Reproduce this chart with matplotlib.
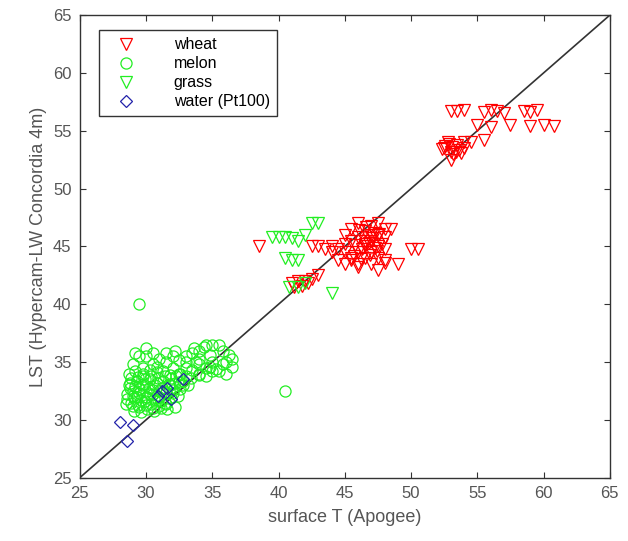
import matplotlib
matplotlib.use("Agg")
import matplotlib.pyplot as plt

plt.rcParams["font.family"] = ["Liberation Sans", "DejaVu Sans"]

# wheat (red open down-triangles)
wheat_x = [53.0, 53.5, 54.0, 55.5, 56.0, 56.5, 57.0, 58.5, 59.0, 59.5, 55.0, 56.0, 57.5, 59.0,
           60.0, 60.8, 54.0, 55.5, 52.5, 53.0, 53.5, 52.8, 53.2, 54.0, 54.5, 53.0, 52.3, 53.8,
           42.5, 43.0, 43.5, 44.0, 44.5, 45.0, 45.5, 46.0, 46.5, 47.0, 47.5, 48.0, 45.0, 45.5,
           46.0, 46.5, 47.0, 47.5, 48.0, 48.5, 45.5, 46.0, 46.5, 47.0, 47.5, 48.0, 45.0, 46.0,
           47.0, 48.0, 46.5, 47.5, 49.0, 47.5, 48.0, 50.0, 50.5, 44.5, 46.0, 47.0, 46.5, 45.5,
           38.5, 41.0, 41.5, 42.0, 42.5, 43.0, 41.2, 41.8, 42.2, 47.2, 44.0, 45.0,
           45.8, 46.3, 46.8, 47.3, 47.8, 46.1, 46.6, 47.1, 47.6, 45.7, 46.2, 46.9, 47.4,
           52.6, 53.1, 53.6, 52.9, 53.4]
wheat_y = [56.7, 56.7, 56.8, 56.6, 56.8, 56.7, 56.5, 56.7, 56.6, 56.8, 55.5, 55.3, 55.5, 55.4,
           55.5, 55.4, 54.0, 54.2, 53.5, 53.2, 53.8, 54.0, 53.0, 53.5, 54.0, 52.5, 53.4, 53.1,
           45.0, 45.0, 44.8, 45.0, 44.8, 45.2, 45.5, 45.8, 46.3, 46.8, 47.0, 46.5, 44.5, 44.0,
           44.5, 45.0, 45.5, 46.0, 45.8, 46.5, 43.8, 43.5, 44.0, 44.5, 44.0, 44.8, 43.5, 43.2,
           43.5, 43.8, 45.5, 45.0, 43.5, 43.0, 43.6, 44.8, 44.8, 43.8, 47.0, 46.0, 45.2, 46.5,
           45.0, 41.8, 42.0, 42.0, 42.2, 42.5, 41.5, 41.6, 41.8, 46.2, 44.5, 46.0,
           45.1, 44.8, 45.3, 44.9, 45.2, 46.4, 46.7, 45.7, 46.1, 44.2, 43.9, 44.3, 44.6,
           53.7, 53.6, 53.3, 53.9, 53.2]

# melon (green open circles)
melon_x = [29.5, 40.5, 29.0, 29.5, 30.0, 30.5, 29.8, 30.5, 31.0, 31.5, 32.0, 32.5, 33.0, 33.5,
           34.0, 34.5, 35.0, 35.5, 34.0, 35.0, 36.0, 36.5, 35.5, 34.5, 36.0, 33.0, 32.5, 28.7,
           29.2, 29.8, 30.3, 30.8, 31.3, 31.8, 32.3, 28.8, 29.3, 29.8, 30.3, 30.8, 31.3, 31.8,
           32.5, 29.0, 29.5, 30.0, 30.5, 31.0, 31.5, 32.0, 28.6, 29.1, 29.6, 30.1, 30.6, 31.1,
           29.0, 29.5, 30.0, 30.5, 31.0, 31.5, 28.8, 29.3, 29.8, 30.3, 30.8, 32.0, 33.0, 34.0,
           35.0, 33.5, 34.5, 32.8, 36.5, 31.5, 30.0, 29.2, 33.8, 32.2,
           28.5, 28.9, 29.4, 29.9, 30.4, 30.9, 31.4, 31.9, 32.4,
           28.6, 29.0, 29.5, 30.0, 30.5, 31.0, 31.5, 32.0, 32.6, 33.2,
           28.7, 29.2, 29.7, 30.2, 30.7, 31.2, 31.7, 32.2, 32.8, 33.4, 34.0,
           28.9, 29.4, 29.9, 30.4, 30.9, 31.4, 31.9, 32.6,
           29.1, 29.6, 30.1, 30.6, 31.1, 31.6, 32.2,
           34.0, 34.8, 35.3, 35.8, 33.6, 34.4, 33.0, 36.3, 35.8, 34.8]
melon_y = [40.0, 32.5, 34.8, 35.5, 36.2, 35.8, 34.5, 34.8, 35.3, 35.0, 35.5, 35.2, 35.5, 35.8,
           36.0, 36.5, 36.5, 36.5, 35.3, 35.0, 35.0, 35.3, 34.2, 34.5, 34.0, 34.5, 34.0, 34.0,
           34.2, 34.0, 34.3, 34.1, 34.2, 33.9, 33.8, 33.2, 33.4, 33.1, 33.5, 33.2, 33.4, 33.0,
           33.3, 32.5, 32.7, 32.4, 32.6, 32.5, 32.3, 32.6, 31.8, 31.9, 31.7, 32.0, 31.8, 31.6,
           31.2, 31.1, 31.3, 31.0, 31.2, 31.4, 32.8, 32.0, 33.8, 32.2, 34.6, 34.5, 33.8, 34.0,
           34.2, 34.3, 33.8, 33.0, 34.6, 35.8, 35.5, 35.8, 35.0, 36.0,
           31.4, 31.5, 31.3, 31.6, 31.4, 31.7, 31.5, 31.9, 32.1,
           32.2, 32.1, 32.3, 32.0, 32.2, 32.0, 32.4, 32.3, 32.7, 33.0,
           33.0, 32.9, 33.0, 32.8, 33.0, 32.8, 33.1, 33.2, 33.4, 33.6, 33.9,
           33.6, 33.7, 33.5, 33.8, 33.6, 33.8, 33.6, 34.0,
           30.8, 30.7, 30.9, 30.8, 31.0, 30.9, 31.1,
           34.8, 34.6, 34.4, 34.8, 36.2, 36.3, 35.0, 35.6, 36.0, 35.6]

# grass (green open down-triangles)
grass_x = [42.5, 43.0, 40.0, 40.5, 41.0, 41.5, 42.0, 40.5, 41.0, 41.5, 40.8, 41.5, 42.0, 44.0, 39.5]
grass_y = [47.0, 47.0, 45.8, 45.8, 45.7, 45.5, 46.0, 44.0, 43.8, 43.8, 41.5, 41.5, 41.8, 41.0, 45.8]

# water (blue open diamonds)
water_x = [28.0, 28.6, 29.0, 30.9, 31.6, 31.9, 32.8, 31.2]
water_y = [29.8, 28.2, 29.6, 32.1, 32.8, 31.8, 33.5, 32.5]

tick_vals = [25, 30, 35, 40, 45, 50, 55, 60, 65]

fig = plt.figure(figsize=(6.28, 5.41), dpi=100)
ax = fig.add_axes([0.127, 0.117, 0.844, 0.855])

ms = 8
green = "#22ee22"
ax.plot(tick_vals, tick_vals, color="#333333", lw=1.2, zorder=1)
ax.plot(wheat_x, wheat_y, "v", mfc="none", mec="red", ms=ms, mew=0.9, label="wheat", zorder=2)
ax.plot(melon_x, melon_y, "o", mfc="none", mec=green, ms=ms, mew=0.9, label="melon", zorder=2)
ax.plot(grass_x, grass_y, "v", mfc="none", mec=green, ms=ms, mew=0.9, label="grass", zorder=2)
ax.plot(water_x, water_y, "D", mfc="none", mec="#2222aa", ms=ms * 0.75, mew=0.9,
        label="water (Pt100)", zorder=3)

ax.set_xlim(25, 65)
ax.set_ylim(25, 65)
ax.set_xticks(tick_vals)
ax.set_yticks(tick_vals)
ax.tick_params(direction="in", top=True, right=True, length=4, labelsize=12, pad=6,
               colors="#333333", labelcolor="#555555")
for s in ax.spines.values():
    s.set_color("#333333")
    s.set_linewidth(1.0)

ax.set_xlabel("surface T (Apogee)", fontsize=13, color="#555555", labelpad=6)
ax.set_ylabel("LST (Hypercam-LW Concordia 4m)", fontsize=13, color="#555555", labelpad=4)

leg = ax.legend(loc="upper left", bbox_to_anchor=(0.022, 0.985), fontsize=11.5,
                fancybox=False, edgecolor="#333333", framealpha=1, handletextpad=1.8,
                borderpad=0.45, labelspacing=0.25, handlelength=2.4)
leg.get_frame().set_linewidth(1.0)

fig.savefig("out.png", dpi=100)
